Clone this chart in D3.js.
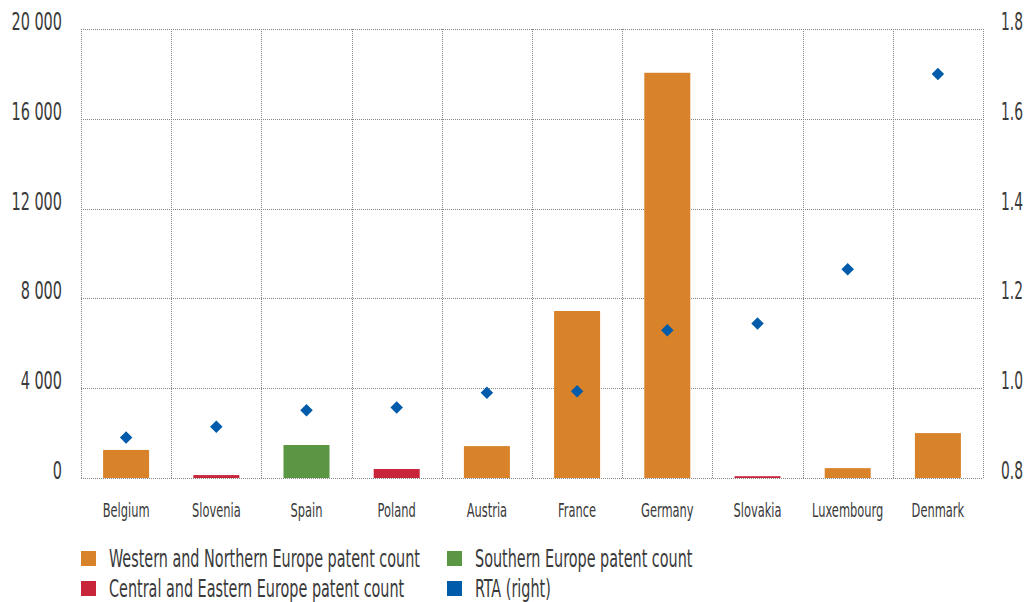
<!DOCTYPE html>
<meta charset="utf-8">
<head>
<script src="https://d3js.org/d3.v7.min.js"></script>
<style>
  body { margin: 0; background: #fff; }
  text { font-family: "DejaVu Sans Condensed", "DejaVu Sans", sans-serif; fill: #3a3a3a; }
</style>
</head>
<body>
<svg id="chart" width="1026" height="602"></svg>
<script>
// data
var countries = ["Belgium", "Slovenia", "Spain", "Poland", "Austria", "France", "Germany", "Slovakia", "Luxembourg", "Denmark"];
var regions   = ["west", "cee", "south", "cee", "west", "west", "west", "cee", "west", "west"];
var patents   = [1250, 130, 1470, 400, 1420, 7440, 18050, 80, 440, 2000];
var rta       = [0.89, 0.914, 0.951, 0.957, 0.99, 0.993, 1.129, 1.144, 1.265, 1.70];
var leftTicks  = [0, 4000, 8000, 12000, 16000, 20000];
var rightTicks = [0.8, 1.0, 1.2, 1.4, 1.6, 1.8];

var colors = { west: "#d8832a", south: "#5b9642", cee: "#c8243a", rta: "#005baa" };
var legendItems = [
  { key: "west",  label: "Western and Northern Europe patent count" },
  { key: "south", label: "Southern Europe patent count" },
  { key: "cee",   label: "Central and Eastern Europe patent count" },
  { key: "rta",   label: "RTA (right)" }
];

var svg = d3.select("#chart");
var mLeft = 81, mRight = 983, mTop = 29, mBottom = 478;

var x = d3.scaleBand().domain(countries).range([mLeft, mRight]).padding(0);
var y = d3.scaleLinear().domain([0, 20000]).range([mBottom, mTop]);
var y2 = d3.scaleLinear().domain([0.8, 1.8]).range([mBottom, mTop]);

var fmt = function (d) { return d3.format(",")(d).replace(",", " "); };

// grid
var grid = svg.append("g")
  .attr("stroke", "#858585")
  .attr("stroke-dasharray", "1,1")
  .attr("stroke-width", 1);

grid.selectAll("line.h")
  .data(leftTicks)
  .enter().append("line")
    .attr("x1", mLeft).attr("x2", mRight)
    .attr("y1", function (d) { return Math.round(y(d)) + 0.5; })
    .attr("y2", function (d) { return Math.round(y(d)) + 0.5; });

var vlines = countries.map(function (c) { return x(c); }).concat([mRight]);
grid.selectAll("line.v")
  .data(vlines)
  .enter().append("line")
    .attr("x1", function (d) { return Math.round(d) + 0.5; })
    .attr("x2", function (d) { return Math.round(d) + 0.5; })
    .attr("y1", mTop).attr("y2", mBottom);

// bars
var barW = x.bandwidth() * 0.51;
svg.append("g")
  .selectAll("rect")
  .data(countries)
  .enter().append("rect")
    .attr("x", function (d) { return x(d) + (x.bandwidth() - barW) / 2; })
    .attr("width", barW)
    .attr("y", function (d, i) { return y(patents[i]); })
    .attr("height", function (d, i) { return mBottom - y(patents[i]); })
    .attr("fill", function (d, i) { return colors[regions[i]]; });

// RTA diamonds
var diamond = d3.symbol().type(d3.symbolSquare).size(78);
svg.append("g")
  .selectAll("path")
  .data(countries)
  .enter().append("path")
    .attr("d", diamond)
    .attr("fill", colors.rta)
    .attr("transform", function (d, i) {
      return "translate(" + (x(d) + x.bandwidth() / 2) + "," + y2(rta[i]) + ") rotate(45)";
    });

// axis labels
svg.append("g")
  .selectAll("text")
  .data(leftTicks)
  .enter().append("text")
    .attr("transform", function (d) { return "translate(62," + (y(d) + 1) + ") scale(0.67,1)"; })
    .attr("text-anchor", "end")
    .style("font-size", "24px")
    .text(fmt);

svg.append("g")
  .selectAll("text")
  .data(rightTicks)
  .enter().append("text")
    .attr("transform", function (d) { return "translate(1001," + (y2(d) + 1) + ") scale(0.64,1)"; })
    .style("font-size", "24px")
    .text(function (d) { return d3.format(".1f")(d); });

svg.append("g")
  .selectAll("text")
  .data(countries)
  .enter().append("text")
    .attr("transform", function (d) { return "translate(" + (x(d) + x.bandwidth() / 2) + ",517) scale(0.67,1)"; })
    .attr("text-anchor", "middle")
    .style("font-size", "19px")
    .text(function (d) { return d; });

// legend
var lg = svg.append("g").selectAll("g")
  .data(legendItems)
  .enter().append("g")
    .attr("transform", function (d, i) {
      return "translate(" + (i % 2 === 0 ? 81 : 447) + "," + (i < 2 ? 567 : 597) + ")";
    });
lg.append("rect")
  .attr("x", 0).attr("y", -16)
  .attr("width", 15).attr("height", 15)
  .attr("fill", function (d) { return colors[d.key]; });
lg.append("text")
  .attr("transform", "translate(28,0) scale(0.667,1)")
  .style("font-size", "24px")
  .text(function (d) { return d.label; });
</script>
</body>
